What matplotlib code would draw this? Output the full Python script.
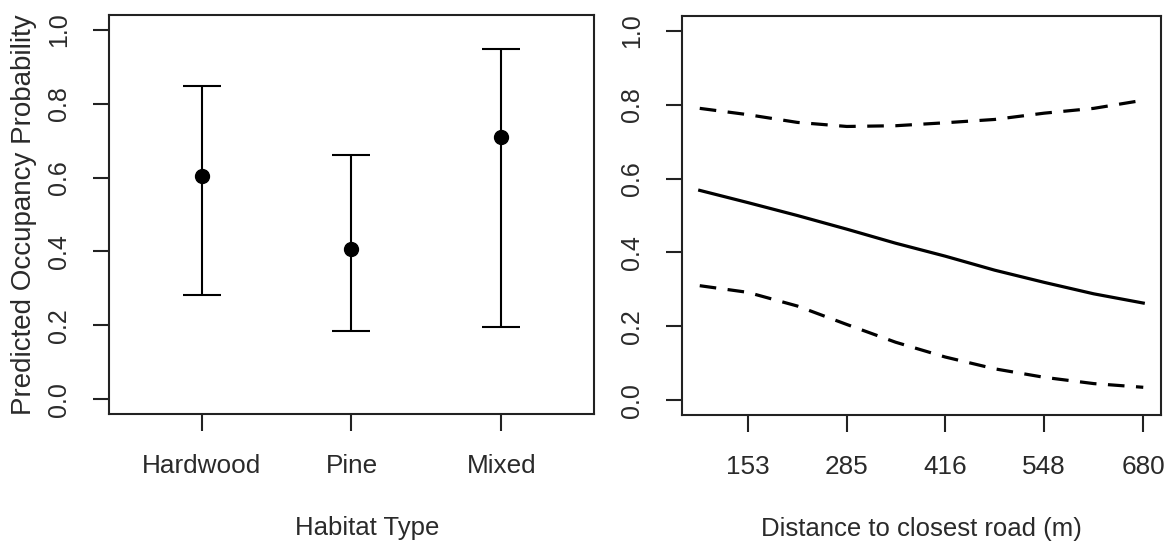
import matplotlib
matplotlib.use("Agg")
import matplotlib.pyplot as plt

plt.rcParams['font.family'] = ['Liberation Sans', 'DejaVu Sans']

# left panel: habitat type
habitats = ['Hardwood', 'Pine', 'Mixed']
hab_mean = [0.605, 0.407, 0.709]
hab_lower = [0.282, 0.184, 0.195]
hab_upper = [0.849, 0.662, 0.948]

# right panel: distance to closest road
dist = [89, 153, 219, 285, 350, 416, 482, 548, 614, 680]
dist_mean = [0.568, 0.535, 0.500, 0.463, 0.425, 0.390, 0.352, 0.319, 0.288, 0.263]
dist_upper = [0.790, 0.773, 0.752, 0.741, 0.743, 0.751, 0.760, 0.777, 0.790, 0.812]
dist_lower = [0.310, 0.292, 0.255, 0.205, 0.157, 0.117, 0.085, 0.062, 0.045, 0.035]
dist_ticks = [153, 285, 416, 548, 680]

txt = '#2a2a2a'
W, H = 1172, 548

fig = plt.figure(figsize=(W / 100, H / 100), dpi=100)
ax1 = fig.add_axes([109 / W, 1 - 414 / H, (594 - 109) / W, (414 - 15) / H])
ax2 = fig.add_axes([682 / W, 1 - 415 / H, (1161 - 682) / W, (415 - 16) / H])

# error bars
xs = [1, 2, 3]
yerr = [[m - lo for m, lo in zip(hab_mean, hab_lower)],
        [hi - m for m, hi in zip(hab_mean, hab_upper)]]
ax1.errorbar(xs, hab_mean, yerr=yerr, fmt='o', color='black', ms=10,
             elinewidth=1.5, capsize=13.5, capthick=1.5)
ax1.set_xlim(0.38, 3.62)
ax1.set_xticks(xs)
ax1.set_xticklabels(habitats)
ax1.set_xlabel('Habitat Type', fontsize=18.5, color=txt, labelpad=27)
ax1.xaxis.label.set_x(0.532)  # sits a bit right of centre in the original
ax1.set_ylabel('Predicted Occupancy Probability', fontsize=20, color=txt, labelpad=7)

# distance lines
dash = (0, (5.2, 3.6))
ax2.plot(dist, dist_mean, color='black', lw=2.3)
ax2.plot(dist, dist_upper, color='black', lw=2.3, linestyle=dash)
ax2.plot(dist, dist_lower, color='black', lw=2.3, linestyle=dash)
pad = 0.04 * (max(dist) - min(dist))
ax2.set_xlim(min(dist) - pad, max(dist) + pad)
ax2.set_xticks(dist_ticks)
ax2.set_xlabel('Distance to closest road (m)', fontsize=18.5, color=txt, labelpad=27)

for ax in (ax1, ax2):
    ax.set_ylim(-0.04, 1.04)
    ax.set_yticks([0.0, 0.2, 0.4, 0.6, 0.8, 1.0])
    ax.set_yticklabels(['0.0', '0.2', '0.4', '0.6', '0.8', '1.0'],
                       rotation=90, va='center')
    ax.tick_params(axis='y', length=11.5, width=1.5, pad=16, labelsize=18,
                   labelcolor=txt, color='#222222')
    ax.tick_params(axis='x', length=12, width=1.5, pad=17, labelsize=18.8,
                   labelcolor=txt, color='#222222')
    for s in ax.spines.values():
        s.set_linewidth(1.5)
        s.set_color('#222222')

fig.savefig('out.png', dpi=100)
